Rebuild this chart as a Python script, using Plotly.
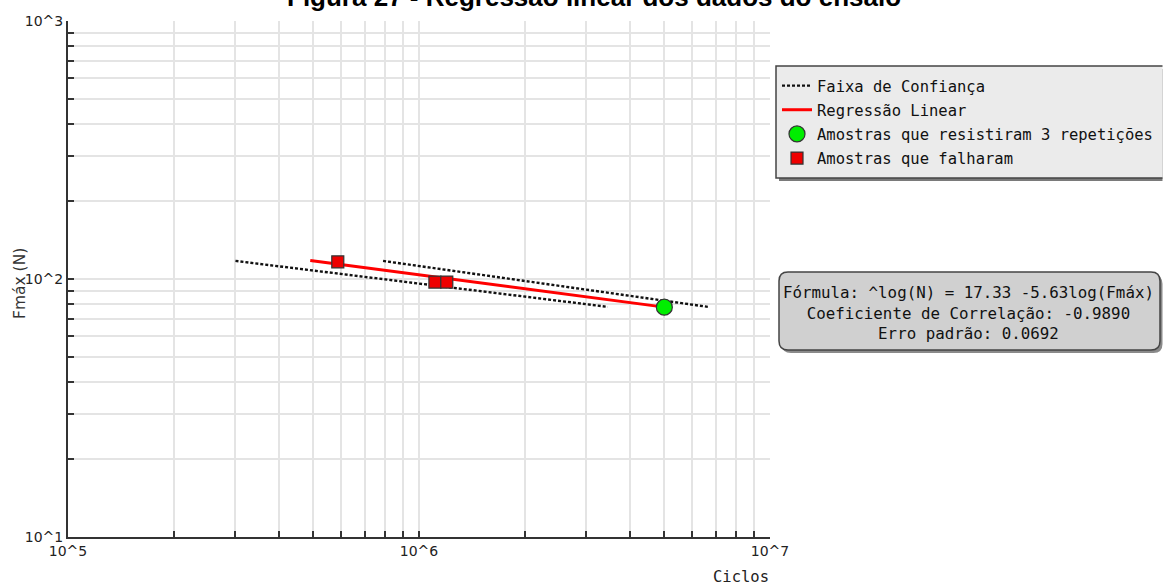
import plotly.graph_objects as go

# ---------------- data ----------------
failed_cycles = [5.87e5, 1.11e6, 1.20e6]
failed_force = [116.5, 97.3, 97.3]

survived_cycles = [5.0e6]
survived_force = [77.8]

regression_cycles = [4.9e5, 5.0e6]
regression_force = [118.0, 77.8]

band_lower_cycles = [3.0e5, 3.45e6]
band_lower_force = [117.5, 78.0]
band_upper_cycles = [7.9e5, 6.65e6]
band_upper_force = [117.5, 78.0]

x_tickvals = [1e5, 2e5, 3e5, 4e5, 5e5, 6e5, 7e5, 8e5, 9e5,
              1e6, 2e6, 3e6, 4e6, 5e6, 6e6, 7e6, 8e6, 9e6, 1e7]
x_ticktext = ["10^5", "", "", "", "", "", "", "", "",
              "10^6", "", "", "", "", "", "", "", "", "10^7"]
y_tickvals = [10, 20, 30, 40, 50, 60, 70, 80, 90,
              100, 200, 300, 400, 500, 600, 700, 800, 900, 1000]
y_ticktext = ["10^1", "", "", "", "", "", "", "", "",
              "10^2", "", "", "", "", "", "", "", "", "10^3"]

title_text = "Figura 27 - Regressão linear dos dados do ensaio"
formula_lines = ["Fórmula: ^log(N) = 17.33 -5.63log(Fmáx)",
                 "Coeficiente de Correlação: -0.9890",
                 "Erro padrão: 0.0692"]

# ---------------- layout geometry ----------------
W, H = 1163, 585
L, R, T, B = 68, 770, 21, 537


def pxx(x):
    return (x - L) / (R - L)


def pxy(y):
    return (B - y) / (B - T)


MONO = "DejaVu Sans Mono"
SANS = "DejaVu Sans"

fig = go.Figure()

fig.add_trace(go.Scatter(
    x=band_lower_cycles + [None] + band_upper_cycles,
    y=band_lower_force + [None] + band_upper_force,
    mode="lines", name="Faixa de Confiança", legendgroup="a",
    line=dict(color="#111111", width=2.4, dash="3px,2px"),
    connectgaps=False,
))
fig.add_trace(go.Scatter(
    x=regression_cycles, y=regression_force, mode="lines",
    name="Regressão Linear", legendgroup="b",
    line=dict(color="#ff0000", width=3),
))
fig.add_trace(go.Scatter(
    x=survived_cycles, y=survived_force, mode="markers",
    name="Amostras que resistiram 3 repetições", legendgroup="c",
    marker=dict(symbol="circle", size=16, color="#00ee00",
                line=dict(color="#333333", width=1.2)),
))
fig.add_trace(go.Scatter(
    x=failed_cycles, y=failed_force, mode="markers",
    name="Amostras que falharam", legendgroup="d",
    marker=dict(symbol="square", size=12, color="#ee0000",
                line=dict(color="#333333", width=1.2)),
))

axis_common = dict(
    showgrid=True, gridcolor="#e4e4e4", gridwidth=1.5,
    showline=True, linecolor="#333333", linewidth=2,
    ticks="inside", ticklen=6, tickwidth=1.5, tickcolor="#333333",
    zeroline=False, mirror=False, automargin=False,
    tickfont=dict(family=SANS, size=14, color="#222222"),
)

fig.update_xaxes(type="log", range=[5, 7], tickmode="array",
                 tickvals=x_tickvals, ticktext=x_ticktext, **axis_common)
fig.update_yaxes(type="log", range=[1, 3], tickmode="array",
                 tickvals=y_tickvals, ticktext=y_ticktext, **axis_common)


def rounded_path(x0, y0, x1, y1, r):
    rx = r / (R - L)
    ry = r / (B - T)
    X0, X1 = pxx(x0), pxx(x1)
    Yt, Yb = pxy(y0), pxy(y1)
    return (f"M {X0+rx},{Yt} L {X1-rx},{Yt} Q {X1},{Yt} {X1},{Yt-ry} "
            f"L {X1},{Yb+ry} Q {X1},{Yb} {X1-rx},{Yb} "
            f"L {X0+rx},{Yb} Q {X0},{Yb} {X0},{Yb+ry} "
            f"L {X0},{Yt-ry} Q {X0},{Yt} {X0+rx},{Yt} Z")


EDGE = W - 0.5
legend_border = (f"M {pxx(EDGE)},{pxy(66)} L {pxx(776)},{pxy(66)} "
                 f"L {pxx(776)},{pxy(178)} L {pxx(EDGE)},{pxy(178)}")

shapes = [
    # formula box shadow + box
    dict(type="path", xref="paper", yref="paper",
         path=rounded_path(782, 275, 1162.5, 353, 9),
         fillcolor="#8a8a8a", line=dict(width=0), layer="above"),
    dict(type="path", xref="paper", yref="paper",
         path=rounded_path(779, 272, 1160, 350, 9),
         fillcolor="#d0d0d0", line=dict(color="#444444", width=1.5),
         layer="above"),
    # legend shadow + box + border (open on the right)
    dict(type="rect", xref="paper", yref="paper",
         x0=pxx(779), x1=pxx(EDGE), y0=pxy(181), y1=pxy(69),
         fillcolor="#7a7a7a", line=dict(width=0), layer="above"),
    dict(type="rect", xref="paper", yref="paper",
         x0=pxx(776), x1=pxx(EDGE), y0=pxy(178), y1=pxy(66),
         fillcolor="#ebebeb", line=dict(width=0), layer="above"),
    dict(type="path", xref="paper", yref="paper", path=legend_border,
         line=dict(color="#444444", width=1.5), layer="above"),
]

annotations = [
    dict(text="<b>" + title_text + "</b>", xref="paper", yref="paper",
         x=pxx(594), y=pxy(-3), xanchor="center", yanchor="middle",
         showarrow=False, font=dict(family="Liberation Sans", size=26,
                                    color="#000000")),
    dict(text="<br>".join(formula_lines), xref="paper", yref="paper",
         x=pxx(968), y=pxy(313), xanchor="center", yanchor="middle",
         showarrow=False, align="center",
         font=dict(family=MONO, size=15.8, color="#111111")),
    dict(text="Fmáx (N)", xref="paper", yref="paper",
         x=pxx(20), y=pxy(283), xanchor="center", yanchor="middle",
         textangle=-90, showarrow=False,
         font=dict(family=SANS, size=15.5, color="#333333")),
    dict(text="Ciclos", xref="paper", yref="paper",
         x=pxx(741), y=pxy(577), xanchor="center", yanchor="middle",
         showarrow=False, font=dict(family=MONO, size=15.5, color="#222222")),
]

fig.update_layout(
    width=W, height=H, autosize=False,
    margin=dict(l=L, r=W - R, t=T, b=H - B, pad=0, autoexpand=False),
    paper_bgcolor="#ffffff", plot_bgcolor="#ffffff",
    showlegend=True,
    legend=dict(xref="container", yref="container",
                x=777 / W, y=1 - 69 / H, xanchor="left", yanchor="top",
                bgcolor="rgba(0,0,0,0)", borderwidth=0,
                font=dict(family=MONO, size=15.5, color="#111111"),
                itemwidth=30, tracegroupgap=1),
    shapes=shapes, annotations=annotations,
)

fig.write_html(
    "out.html",
    config={"responsive": False, "displayModeBar": False},
    post_script=(
        "document.body.style.margin='0';"
        "document.body.style.overflow='hidden';"
    ),
)
